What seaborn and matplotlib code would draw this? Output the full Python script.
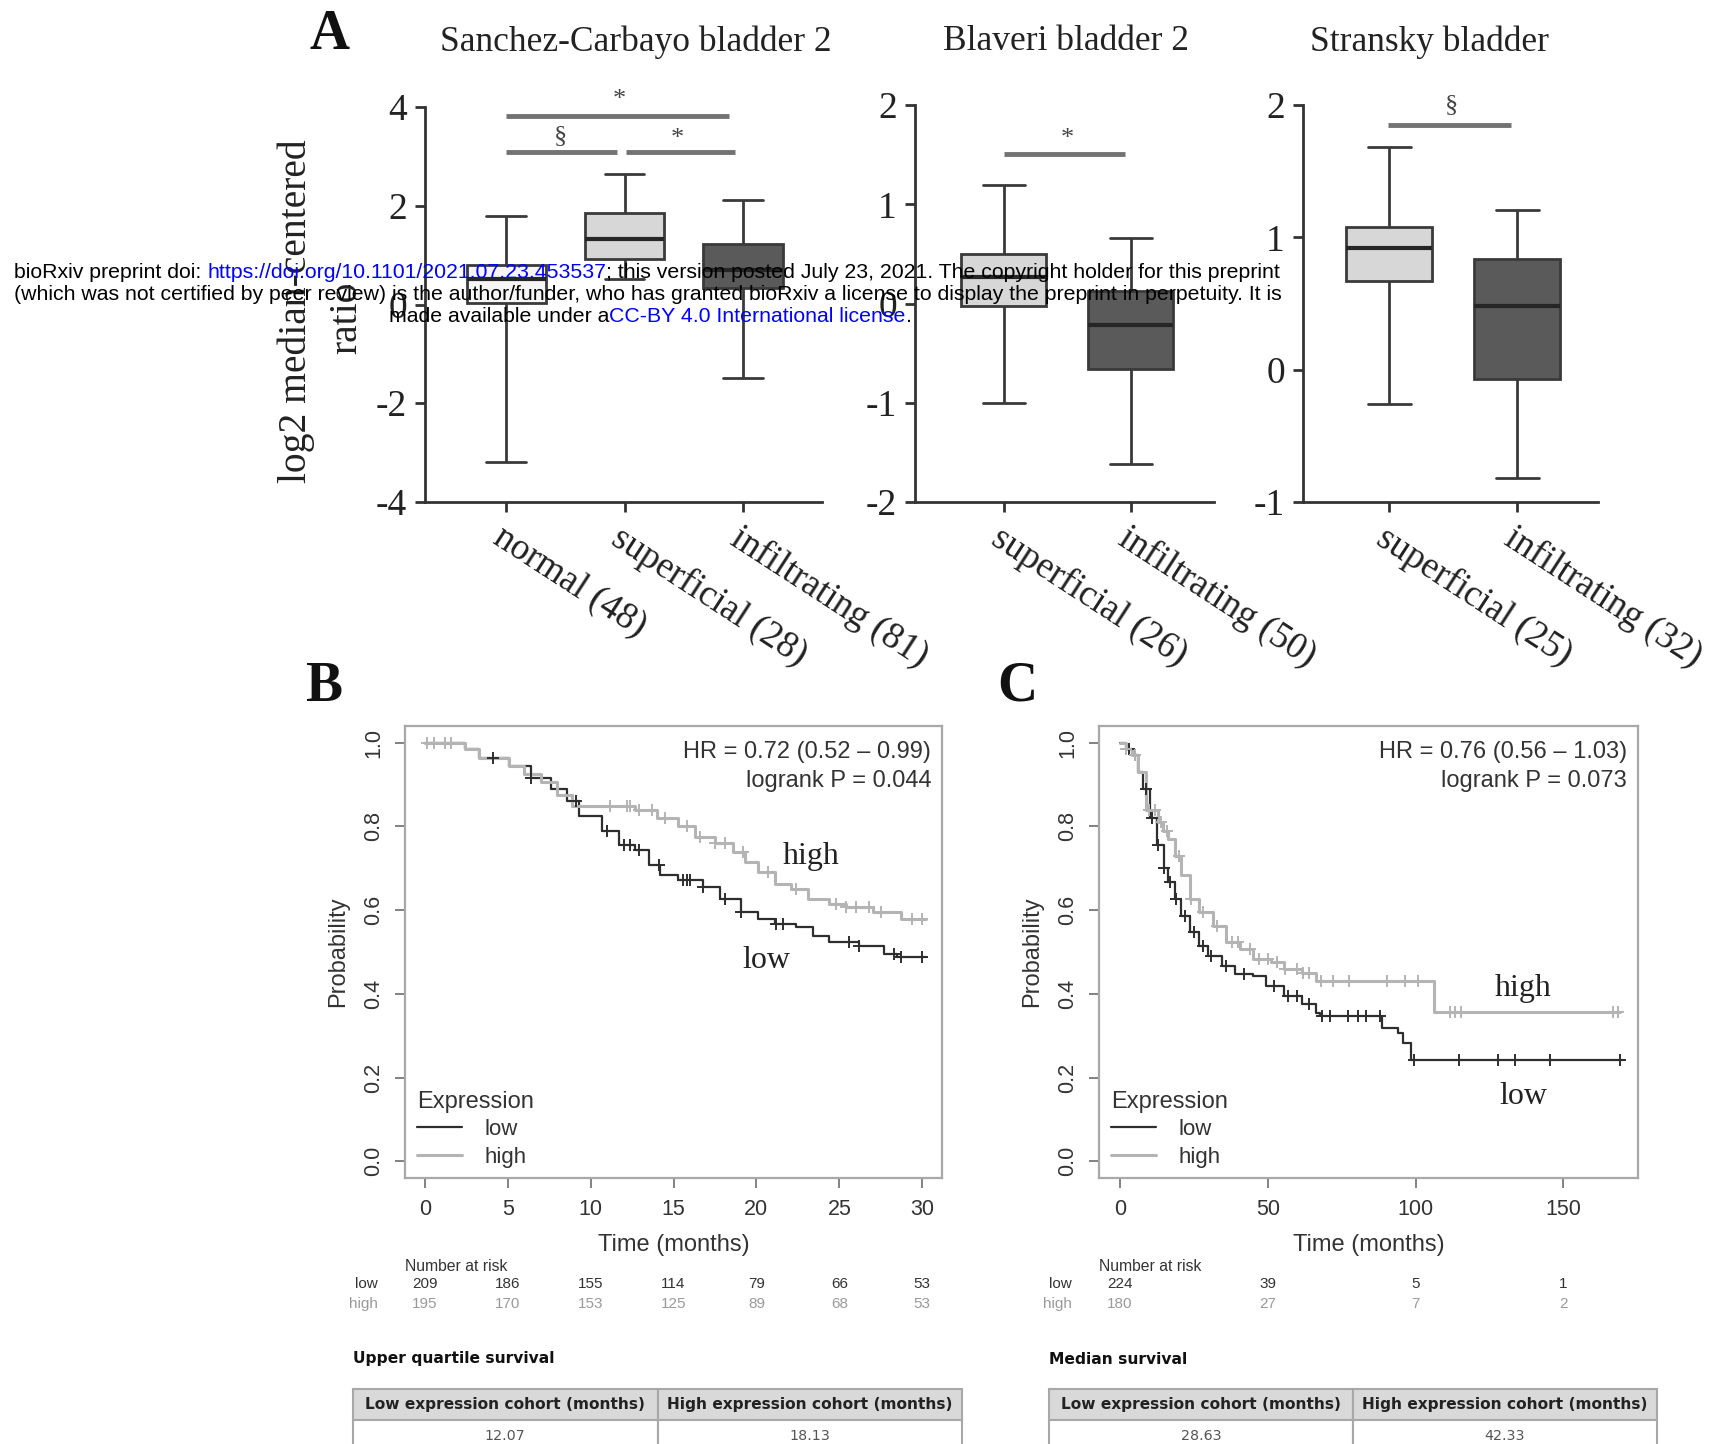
import numpy as np
import pandas as pd
import matplotlib
matplotlib.use("Agg")
import matplotlib.pyplot as plt
import seaborn as sns

sns.set_theme(style="ticks")
plt.rcParams['font.family'] = ['Liberation Sans', 'DejaVu Sans']
SERIF = ['Liberation Serif', 'DejaVu Serif']

# === Panel A: five-number summaries (min, q1, median, q3, max) ===
sanchez_groups = ["normal (48)", "superficial (28)", "infiltrating (81)"]
sanchez_stats = [
    [-3.19, 0.03, 0.51, 0.81, 1.80],
    [0.51, 0.92, 1.32, 1.85, 2.64],
    [-1.48, 0.33, 0.70, 1.22, 2.12],
]
blaveri_groups = ["superficial (26)", "infiltrating (50)"]
blaveri_stats = [
    [-1.00, -0.03, 0.27, 0.50, 1.19],
    [-1.62, -0.66, -0.22, 0.13, 0.66],
]
stransky_groups = ["superficial (25)", "infiltrating (32)"]
stransky_stats = [
    [-0.26, 0.67, 0.92, 1.08, 1.68],
    [-0.82, -0.07, 0.48, 0.84, 1.21],
]
# significance bars: (x start, x end, y, label x, label y, label)
sanchez_sig = [(0, 1.885, 3.82, 0.96, 4.15, "*"), (0, 0.94, 3.09, 0.46, 3.42, "§"),
               (1.01, 1.93, 3.09, 1.45, 3.35, "*")]
blaveri_sig = [(0, 0.957, 1.51, 0.5, 1.66, "*")]
stransky_sig = [(-0.01, 0.95, 1.85, 0.49, 2.0, "§")]

# === Panel B: Kaplan-Meier steps (time in months, survival) ===
b_low_t = [0, 2.4, 3.3, 5.1, 6.4, 7.6, 8.6, 9.3, 10.7, 11.7, 12.7, 13.5, 14.2, 15.3, 16.8,
           17.8, 19.1, 20.1, 21.1, 22.4, 23.4, 24.4, 26.2, 27.7, 28.5, 30.2]
b_low_s = [1.0, 0.984, 0.964, 0.944, 0.916, 0.89, 0.86, 0.824, 0.788, 0.755, 0.743, 0.707, 0.683,
           0.671, 0.655, 0.627, 0.595, 0.579, 0.567, 0.559, 0.539, 0.523, 0.515, 0.495, 0.487, 0.487]
b_high_t = [0, 2.4, 3.3, 5.1, 6.0, 7.0, 8.0, 8.9, 12.7, 14.0, 15.3, 16.3, 17.5, 18.6, 19.3,
            20.1, 21.1, 22.1, 23.1, 24.4, 25.4, 27.0, 28.7, 30.2]
b_high_s = [1.0, 0.984, 0.964, 0.944, 0.925, 0.905, 0.875, 0.848, 0.84, 0.82, 0.80, 0.775, 0.76,
            0.74, 0.715, 0.69, 0.663, 0.651, 0.627, 0.615, 0.607, 0.595, 0.58, 0.58]
b_low_cens = [4.1, 6.4, 9.1, 11.0, 12.0, 12.4, 12.9, 14.1, 15.6, 15.8, 16.0, 16.8, 18.1, 19.1,
              21.2, 21.6, 25.6, 26.2, 28.3, 28.7, 30.0]
b_high_cens = [0.13, 0.55, 1.2, 1.6, 11.2, 12.2, 12.4, 12.9, 13.7, 14.5, 15.8, 16.6, 17.5, 18.1,
               19.2, 20.7, 22.4, 24.8, 25.4, 26.0, 26.8, 27.5, 29.4, 30.0]
b_risk_times = [0, 5, 10, 15, 20, 25, 30]
b_risk_low = [209, 186, 155, 114, 79, 66, 53]
b_risk_high = [195, 170, 153, 125, 89, 68, 53]

# === Panel C ===
c_low_t = [0, 2, 4.2, 6, 8, 10.3, 12.5, 14.8, 16.3, 18.6, 20.8, 23.9, 26.9, 29.9, 34.4, 39, 45,
           49.5, 55.6, 61.6, 66.2, 67.7, 88.8, 94, 95.6, 98.6, 170]
c_low_s = [1.0, 0.985, 0.97, 0.93, 0.89, 0.82, 0.755, 0.70, 0.667, 0.627, 0.587, 0.547, 0.515,
           0.491, 0.467, 0.447, 0.443, 0.419, 0.395, 0.375, 0.354, 0.346, 0.318, 0.306, 0.282,
           0.242, 0.242]
c_high_t = [0, 2, 4.2, 6, 8.8, 13, 14.5, 16.3, 18.6, 20.8, 23.9, 26.9, 31.4, 35.9, 40.5, 45, 51,
            55.6, 61.6, 66.2, 106.2, 169]
c_high_s = [1.0, 0.985, 0.97, 0.93, 0.84, 0.81, 0.79, 0.77, 0.73, 0.683, 0.627, 0.595, 0.563,
            0.523, 0.507, 0.483, 0.475, 0.459, 0.451, 0.431, 0.357, 0.357]
c_low_cens = [3, 5, 9, 11, 13, 15, 17, 19, 22, 25, 28, 31, 36, 42, 52, 57, 60, 64, 68.5, 71, 77,
              80.7, 83.1, 88, 99.5, 114.7, 128, 133.5, 145.6, 169]
c_high_cens = [2, 5, 10, 12, 14, 16, 20, 24, 28, 33, 38, 40, 44, 47, 50, 53, 56, 60, 62, 64,
               67.9, 72.2, 77.6, 90.4, 96.4, 100.7, 111.6, 113.4, 115.2, 166.8, 168.6]
c_risk_times = [0, 50, 100, 150]
c_risk_low = [224, 39, 5, 1]
c_risk_high = [180, 27, 7, 2]

table_cols = ["Low expression cohort (months)", "High expression cohort (months)"]
b_table_title = "Upper quartile survival"
b_table_vals = ["12.07", "18.13"]
c_table_title = "Median survival"
c_table_vals = ["28.63", "42.33"]

LOW_C = "#2e2e2e"
HIGH_C = "#b4b4b4"

W, H = 1718, 1444
fig = plt.figure(figsize=(W / 100, H / 100), dpi=100)
fig.patch.set_facecolor("white")


def px_axes(x0, y0, x1, y1, **kw):
    return fig.add_axes([x0 / W, 1 - y1 / H, (x1 - x0) / W, (y1 - y0) / H], **kw)


def box_panel(rect, groups, stats, colors, ylim, yticks, xlim, sig):
    ax = px_axes(*rect)
    df = pd.DataFrame({"group": np.repeat(groups, 5), "value": np.concatenate(stats)})
    sns.boxplot(data=df, x="group", y="value", hue="group", palette=colors, width=0.67,
                whis=(0, 100), linecolor="#3a3a3a", linewidth=2, legend=False, ax=ax,
                showfliers=False, medianprops={"color": "#262626", "linewidth": 3})
    ax.set_xlim(xlim)
    ax.set_ylim(ylim)
    ax.set_yticks(yticks)
    ax.set_yticklabels([str(v) for v in yticks], family=SERIF, fontsize=27, color="#222")
    ax.set_xticks(range(len(groups)))
    ax.set_xticklabels(groups, rotation=-33, ha="left", va="top", rotation_mode="anchor",
                       family=SERIF, fontsize=26.5, color="#222")
    ax.set_xlabel("")
    ax.set_ylabel("")
    sns.despine(ax=ax)
    for sp in ["left", "bottom"]:
        ax.spines[sp].set_color("#333")
        ax.spines[sp].set_linewidth(2)
    ax.tick_params(direction="out", length=7, width=2, color="#333", pad=6)
    for x0, x1, y, lx, ly, lab in sig:
        ax.plot([x0, x1], [y, y], color="#737373", lw=3.5, clip_on=False, solid_capstyle="butt")
        ax.text(lx, ly, lab, ha="center", va="center", family=SERIF, fontsize=19,
                color="#444", clip_on=False)
    return ax


box_panel((425, 107, 822, 502), sanchez_groups, sanchez_stats,
          ["#f5f5f5", "#d7d7d7", "#5a5a5a"], (-4, 4), [-4, -2, 0, 2, 4], (-0.686, 2.668),
          sanchez_sig)
box_panel((915, 105, 1214, 502), blaveri_groups, blaveri_stats,
          ["#d7d7d7", "#5a5a5a"], (-2, 2), [-2, -1, 0, 1, 2], (-0.70, 1.654), blaveri_sig)
box_panel((1303, 105, 1598, 502), stransky_groups, stransky_stats,
          ["#d7d7d7", "#5a5a5a"], (-1, 2), [-1, 0, 1, 2], (-0.672, 1.629), stransky_sig)

for txt, x in [("Sanchez-Carbayo bladder 2", 636), ("Blaveri bladder 2", 1066),
               ("Stransky bladder", 1430)]:
    fig.text(x / W, 1 - 42 / H, txt, ha="center", va="center", family=SERIF, fontsize=25.5,
             color="#222")
fig.text(296 / W, 1 - 311 / H, "log2 median-centered", rotation=90, ha="center", va="center",
         family=SERIF, fontsize=28.5, color="#222")
fig.text(347 / W, 1 - 318 / H, "ratio", rotation=90, ha="center", va="center",
         family=SERIF, fontsize=28.5, color="#222")

for lab, x, y in [("A", 329, 35), ("B", 324, 687), ("C", 1017, 687)]:
    fig.text(x / W, 1 - y / H, lab, ha="center", va="center", family=SERIF, fontsize=40,
             fontweight="bold", color="#111")


def km_panel(rect, low_t, low_s, high_t, high_s, low_cens, high_cens, xlim, xticks,
             hr_text, p_text, lab_pos, risk_t, risk_low, risk_high):
    ax = px_axes(*rect)
    sns.lineplot(x=low_t, y=low_s, drawstyle="steps-post", color=LOW_C, lw=1.6,
                 estimator=None, sort=False, ax=ax, label="low")
    sns.lineplot(x=high_t, y=high_s, drawstyle="steps-post", color=HIGH_C, lw=2.2,
                 estimator=None, sort=False, ax=ax, label="high")
    for cens, t, s, c in [(low_cens, low_t, low_s, LOW_C), (high_cens, high_t, high_s, HIGH_C)]:
        idx = np.searchsorted(t, cens, side="right") - 1
        sns.scatterplot(x=cens, y=np.asarray(s)[idx], marker="+", s=70, color=c,
                        linewidth=1.4, ax=ax, legend=False, zorder=3)
    ax.set_xlim(xlim)
    ax.set_ylim(-0.04, 1.04)
    ax.set_xticks(xticks)
    ax.set_yticks([0, 0.2, 0.4, 0.6, 0.8, 1.0])
    ax.set_yticklabels(["0.0", "0.2", "0.4", "0.6", "0.8", "1.0"], rotation=90, va="center")
    for sp in ax.spines.values():
        sp.set_color("#a8a8a8")
        sp.set_linewidth(1.6)
    ax.tick_params(direction="out", length=7, width=1.3, color="#777", labelsize=15.5,
                   labelcolor="#333", pad=8)
    ax.set_xlabel("Time (months)", fontsize=17, color="#333", labelpad=10)
    ax.set_ylabel("Probability", fontsize=17, color="#333", labelpad=10)
    ax.text(0.98, 0.942, hr_text, transform=ax.transAxes, ha="right", va="center",
            fontsize=17, color="#333")
    ax.text(0.98, 0.879, p_text, transform=ax.transAxes, ha="right", va="center",
            fontsize=17, color="#333")
    for txt, (x, y) in zip(["high", "low"], lab_pos):
        ax.text(x, y, txt, ha="center", va="center", family=SERIF, fontsize=23, color="#222")
    handles, labels = ax.get_legend_handles_labels()
    leg = ax.legend(handles[:2], ["low", "high"], title="Expression", loc="lower left",
                    bbox_to_anchor=(-0.014, -0.022), frameon=False, fontsize=16,
                    title_fontsize=17, alignment="left", handlelength=2.0, labelspacing=0.3,
                    handletextpad=1.0)
    for t in leg.get_texts():
        t.set_color("#333")
    leg.get_title().set_color("#333")
    # number at risk
    tr = ax.get_xaxis_transform()
    ax.text(0.0, -0.195, "Number at risk", transform=ax.transAxes, ha="left", va="center",
            fontsize=11.3, color="#333")
    ax.text(-0.05, -0.235, "low", transform=ax.transAxes, ha="right", va="center",
            fontsize=11, color="#333")
    ax.text(-0.05, -0.278, "high", transform=ax.transAxes, ha="right", va="center",
            fontsize=11, color="#9a9a9a")
    for t, nl, nh in zip(risk_t, risk_low, risk_high):
        ax.text(t, -0.235, str(nl), transform=tr, ha="center", va="center", fontsize=11,
                color="#333")
        ax.text(t, -0.278, str(nh), transform=tr, ha="center", va="center", fontsize=11,
                color="#9a9a9a")
    return ax


km_panel((405, 726, 942, 1178), b_low_t, b_low_s, b_high_t, b_high_s, b_low_cens, b_high_cens,
         (-1.19, 31.19), [0, 5, 10, 15, 20, 25, 30], "HR = 0.72 (0.52 – 0.99)",
         "logrank P = 0.044", [(23.3, 0.728), (20.6, 0.48)],
         b_risk_times, b_risk_low, b_risk_high)
km_panel((1099, 726, 1638, 1178), c_low_t, c_low_s, c_high_t, c_high_s, c_low_cens, c_high_cens,
         (-7.03, 175.2), [0, 50, 100, 150], "HR = 0.76 (0.56 – 1.03)",
         "logrank P = 0.073", [(136.3, 0.413), (136.3, 0.155)],
         c_risk_times, c_risk_low, c_risk_high)


def survival_table(x0, x1, title, vals):
    fig.text(x0 / W, 1 - 1359 / H, title, ha="left", va="center", family="DejaVu Sans",
             fontsize=11.2, fontweight="bold", color="#111")
    ax = px_axes(x0, 1389, x1, 1451)
    ax.axis("off")
    tab = ax.table(cellText=[vals], colLabels=table_cols, cellLoc="center", bbox=[0, 0, 1, 1])
    tab.auto_set_font_size(False)
    for (r, c), cell in tab.get_celld().items():
        cell.set_edgecolor("#a8a8a8")
        cell.set_linewidth(1.5)
        txt = cell.get_text()
        txt.set_fontfamily("DejaVu Sans")
        if r == 0:
            cell.set_facecolor("#d9d9d9")
            txt.set_fontweight("bold")
            txt.set_fontsize(11.1)
            txt.set_color("#222")
        else:
            cell.set_facecolor("white")
            txt.set_fontsize(10.3)
            txt.set_color("#555")


survival_table(353, 962, b_table_title, b_table_vals)
survival_table(1049, 1657, c_table_title, c_table_vals)

# bioRxiv watermark on top
ov = fig.add_axes([0, 0, 1, 1], zorder=10)
ov.axis("off")
ov.patch.set_alpha(0)


def chain_text(x, y, parts):
    prev = ov.text(x / W, 1 - y / H, parts[0][0], color=parts[0][1], fontsize=15.3,
                   ha="left", va="center", transform=ov.transAxes)
    for txt, col in parts[1:]:
        prev = ov.annotate(txt, xy=(1, 0), xycoords=prev, ha="left", va="bottom",
                           color=col, fontsize=15.3)


chain_text(14, 272, [("bioRxiv preprint doi: ", "black"),
                     ("https://doi.org/10.1101/2021.07.23.453537", "#0000ff"),
                     ("; this version posted July 23, 2021. The copyright holder for this preprint",
                      "black")])
chain_text(14, 294, [("(which was not certified by peer review) is the author/funder, who has granted "
                      "bioRxiv a license to display the preprint in perpetuity. It is", "black")])
chain_text(389, 316, [("made available under a", "black"),
                      ("CC-BY 4.0 International license", "#0000ff"), (".", "black")])

fig.savefig("out.png", dpi=100)
